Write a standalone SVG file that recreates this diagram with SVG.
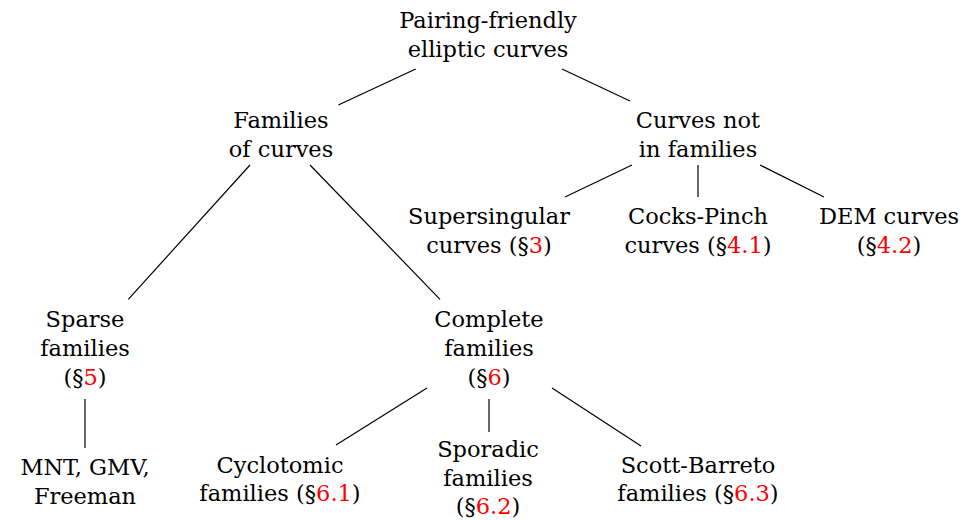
<svg xmlns="http://www.w3.org/2000/svg" width="964" height="520" viewBox="0 0 964 520">
<style>
text{font-family:"DejaVu Serif","Liberation Serif",serif;font-size:22.5px;fill:#000;text-anchor:middle}
.r{fill:#ff0000}
line{stroke:#000;stroke-width:1.2;fill:none}
</style>
<rect width="964" height="520" fill="#fff"/>
<g id="connectors">
<line x1="415.7" y1="69" x2="338.3" y2="105"/>
<line x1="562" y1="69" x2="630" y2="101"/>
<line x1="250" y1="165" x2="128.3" y2="299.3"/>
<line x1="310" y1="165" x2="440" y2="299.3"/>
<line x1="632" y1="165" x2="565" y2="197"/>
<line x1="698" y1="165" x2="698" y2="197"/>
<line x1="760" y1="165" x2="824" y2="197"/>
<line x1="85" y1="399" x2="85" y2="448"/>
<line x1="427" y1="388" x2="336" y2="445"/>
<line x1="489" y1="399" x2="489" y2="432"/>
<line x1="552" y1="388" x2="641" y2="446"/>
</g>
<g id="root"><text x="488" y="28">Pairing-friendly</text><text x="488" y="57">elliptic curves</text></g>
<g id="families"><text x="281" y="128">Families</text><text x="281" y="157">of curves</text></g>
<g id="notfamilies"><text x="698" y="128">Curves not</text><text x="698" y="157">in families</text></g>
<g id="supersingular"><text x="489" y="224">Supersingular</text><text x="489" y="253">curves (§<tspan class="r">3</tspan>)</text></g>
<g id="cockspinch"><text x="698" y="224">Cocks-Pinch</text><text x="698" y="253">curves (§<tspan class="r">4.1</tspan>)</text></g>
<g id="dem"><text x="889" y="224">DEM curves</text><text x="889" y="253">(§<tspan class="r">4.2</tspan>)</text></g>
<g id="sparse"><text x="85" y="327">Sparse</text><text x="85" y="356">families</text><text x="85" y="385">(§<tspan class="r">5</tspan>)</text></g>
<g id="complete"><text x="489" y="327">Complete</text><text x="489" y="356">families</text><text x="489" y="385">(§<tspan class="r">6</tspan>)</text></g>
<g id="mnt"><text x="85" y="475">MNT, GMV,</text><text x="85" y="504">Freeman</text></g>
<g id="cyclotomic"><text x="280" y="473">Cyclotomic</text><text x="280" y="501">families (§<tspan class="r">6.1</tspan>)</text></g>
<g id="sporadic"><text x="488" y="457">Sporadic</text><text x="488" y="486">families</text><text x="488" y="514">(§<tspan class="r">6.2</tspan>)</text></g>
<g id="scottbarreto"><text x="698" y="473">Scott-Barreto</text><text x="698" y="501">families (§<tspan class="r">6.3</tspan>)</text></g>
</svg>
